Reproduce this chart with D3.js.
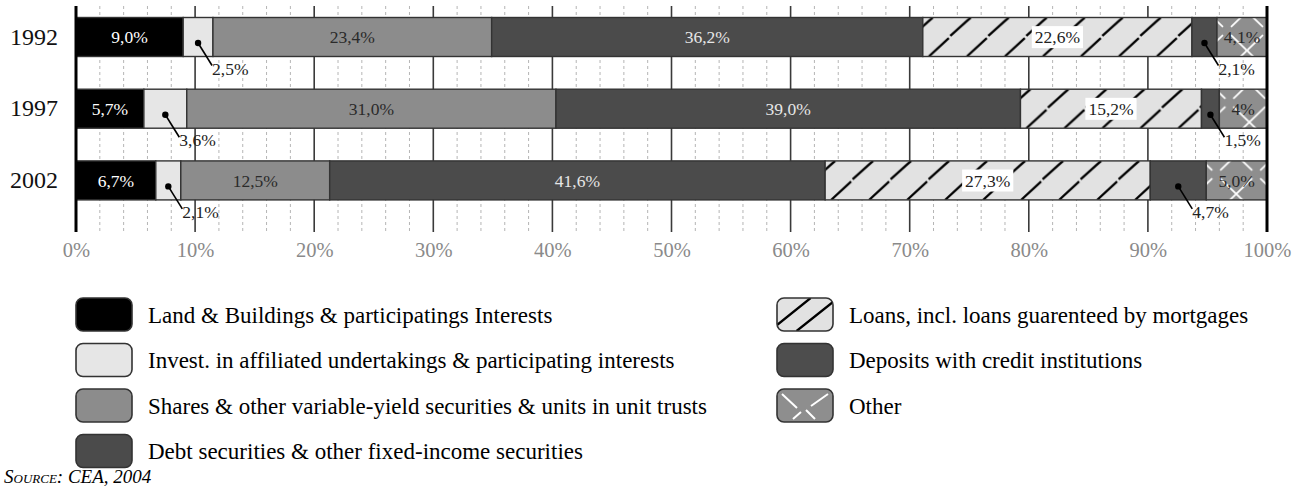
<!DOCTYPE html>
<html>
<head>
<meta charset="utf-8">
<script src="https://cdn.jsdelivr.net/npm/d3@7"></script>
<style>
  html, body { margin: 0; padding: 0; background: #fff; }
  svg { display: block; font-family: "Liberation Serif", "DejaVu Serif", serif; }
</style>
</head>
<body>
<svg id="chart" width="1313" height="490"></svg>
<script>
// ---- data ----
const years = ["1992", "1997", "2002"];
const categories = [
  "Land & Buildings & participatings Interests",
  "Invest. in affiliated undertakings & participating interests",
  "Shares & other variable-yield securities & units in unit trusts",
  "Debt securities & other fixed-income securities",
  "Loans, incl. loans guarenteed by mortgages",
  "Deposits with credit institutions",
  "Other"
];
const values1992 = [9.0, 2.5, 23.4, 36.2, 22.6, 2.1, 4.1];
const values1997 = [5.7, 3.6, 31.0, 39.0, 15.2, 1.5, 4.0];
const values2002 = [6.7, 2.1, 12.5, 41.6, 27.3, 4.7, 5.0];
const labels1992 = ["9,0%", "2,5%", "23,4%", "36,2%", "22,6%", "2,1%", "4,1%"];
const labels1997 = ["5,7%", "3,6%", "31,0%", "39,0%", "15,2%", "1,5%", "4%"];
const labels2002 = ["6,7%", "2,1%", "12,5%", "41,6%", "27,3%", "4,7%", "5,0%"];
const xTicks = [0, 10, 20, 30, 40, 50, 60, 70, 80, 90, 100];
const sourceText = "Source: CEA, 2004";

// ---- styles (kept apart from data) ----
const fills = ["#000000", "#e6e6e6", "#8c8c8c", "#4b4b4b", "#e2e2e2", "#4d4d4d", "#8e8e8e"];
const patternOf = [null, null, null, null, "loans", null, "other"];
const labelMode = ["inside", "callout", "inside", "inside", "boxed", "callout", "inside"];
const labelColor = ["#ffffff", "#222", "#2a2a2a", "#e6e6e6", "#222", "#222", "#2a2a2a"];

const valuesByYear = { "1992": values1992, "1997": values1997, "2002": values2002 };
const labelsByYear = { "1992": labels1992, "1997": labels1997, "2002": labels2002 };

const svg = d3.select("#chart");
const defs = svg.append("defs");

const x = d3.scaleLinear().domain([0, 100]).range([76, 1267]);
const y = d3.scaleBand().domain(years).range([17.5, 232.6])
  .paddingInner(0.456).paddingOuter(0.228).align(0);
const bw = y.bandwidth();
const gridTop = 6, gridBottom = 232;

// build segments
const segments = [];
years.forEach(yr => {
  let acc = 0;
  valuesByYear[yr].forEach((v, i) => {
    segments.push({ year: yr, i, v, x0: acc, x1: acc + v, label: labelsByYear[yr][i] });
    acc += v;
  });
});
// last segment reaches the 100% edge
years.forEach(yr => {
  const segs = segments.filter(s => s.year === yr);
  segs[segs.length - 1].x1 = 100;
});

// ---- grid ----
const grid = svg.append("g");
const minor = d3.range(2, 100, 2).filter(d => d % 10 !== 0);
grid.selectAll("line.minor").data(minor).join("line")
  .attr("x1", d => x(d)).attr("x2", d => x(d))
  .attr("y1", gridTop).attr("y2", gridBottom)
  .attr("stroke", "#b5b5b5").attr("stroke-width", 1).attr("stroke-dasharray", "3,3");
grid.selectAll("line.major").data(xTicks.filter(d => d > 0 && d < 100)).join("line")
  .attr("x1", d => x(d)).attr("x2", d => x(d))
  .attr("y1", gridTop).attr("y2", gridBottom)
  .attr("stroke", "#3a3a3a").attr("stroke-width", 1.6);

// ---- patterns (one per patterned segment, aligned to its bar) ----
segments.forEach((s, k) => {
  const p = patternOf[s.i];
  if (!p) return;
  const id = "pat" + k;
  s.pid = id;
  const bx = x(s.x0), by = y(s.year);
  if (p === "loans") {
    const w = 38, h = bw;
    const pat = defs.append("pattern").attr("id", id).attr("patternUnits", "userSpaceOnUse")
      .attr("x", bx + 6).attr("y", by).attr("width", w).attr("height", h);
    pat.append("rect").attr("width", w).attr("height", h).attr("fill", fills[s.i]);
    let d = "";
    [-w, 0, w].forEach(o => {
      d += `M${o},${h} L${o + 20},${h / 2 + 1} M${o + 21.5},${h / 2 - 1} L${o + 42},0 `;
    });
    pat.append("path").attr("d", d).attr("stroke", "#000").attr("stroke-width", 2.3).attr("fill", "none");
  } else {
    const w = 40, h = bw;
    const pat = defs.append("pattern").attr("id", id).attr("patternUnits", "userSpaceOnUse")
      .attr("x", bx - 10).attr("y", by - 6).attr("width", w).attr("height", h);
    pat.append("rect").attr("width", w).attr("height", h).attr("fill", fills[s.i]);
    const g = 4;
    const d = `M0,0 L${w / 2 - g},${h / 2 - g} M${w / 2 + g},${h / 2 + g} L${w},${h} ` +
              `M${w},0 L${w / 2 + g},${h / 2 - g} M${w / 2 - g},${h / 2 + g} L0,${h}`;
    pat.append("path").attr("d", d).attr("stroke", "#ffffff").attr("stroke-width", 1.8).attr("fill", "none");
  }
});

// legend patterns (aligned to legend boxes)
function legendPattern(id, type, bx, by, w, h) {
  const pat = defs.append("pattern").attr("id", id).attr("patternUnits", "userSpaceOnUse")
    .attr("x", bx).attr("y", by).attr("width", w).attr("height", h);
  if (type === "loans") {
    pat.append("rect").attr("width", w).attr("height", h).attr("fill", fills[4]);
    pat.append("path").attr("d", `M0,${h - 6} L${w * 0.6},0 M${w * 0.35},${h} L${w},${h * 0.12}`)
      .attr("stroke", "#000").attr("stroke-width", 2.3).attr("fill", "none");
  } else {
    pat.append("rect").attr("width", w).attr("height", h).attr("fill", fills[6]);
    pat.append("path").attr("d",
      `M5,5 L20,19 M${w - 5},5 L${w - 22},17 M16,${h - 3} L24,${h - 10} M${w - 18},${h - 3} L${w - 27},${h - 12}`)
      .attr("stroke", "#fff").attr("stroke-width", 2).attr("fill", "none");
  }
}

// ---- bars ----
svg.append("g").selectAll("rect").data(segments).join("rect")
  .attr("x", s => x(s.x0)).attr("y", s => y(s.year))
  .attr("width", s => x(s.x1) - x(s.x0)).attr("height", bw)
  .attr("fill", s => s.pid ? `url(#${s.pid})` : fills[s.i])
  .attr("stroke", "#333").attr("stroke-width", 1.4);

// ---- edge axis lines ----
svg.append("g").selectAll("line").data([0, 100]).join("line")
  .attr("x1", d => x(d)).attr("x2", d => x(d))
  .attr("y1", gridTop).attr("y2", gridBottom)
  .attr("stroke", "#000").attr("stroke-width", 3);

// ---- segment labels ----
const lab = svg.append("g").attr("font-size", 17.5);
segments.forEach(s => {
  const cx = (x(s.x0) + x(s.x1)) / 2;
  const top = y(s.year), cy = top + bw / 2;
  const mode = labelMode[s.i];
  if (mode === "inside") {
    lab.append("text").attr("x", cx).attr("y", cy).attr("dy", "0.35em")
      .attr("text-anchor", "middle").attr("fill", labelColor[s.i]).text(s.label);
  } else if (mode === "boxed") {
    const t = lab.append("text").attr("x", cx).attr("y", cy).attr("dy", "0.35em")
      .attr("text-anchor", "middle").attr("fill", labelColor[s.i]).text(s.label);
    const b = t.node().getBBox();
    lab.insert("rect", () => t.node())
      .attr("x", b.x - 3).attr("y", b.y - 1).attr("width", b.width + 6).attr("height", b.height + 2)
      .attr("fill", "#fff");
  } else {
    const dy = cy + 6, bottom = top + bw;
    lab.append("line").attr("x1", cx).attr("y1", dy).attr("x2", cx + 14).attr("y2", bottom + 9)
      .attr("stroke", "#000").attr("stroke-width", 1.6);
    lab.append("circle").attr("cx", cx).attr("cy", dy).attr("r", 3.2).attr("fill", "#000");
    lab.append("text").attr("x", cx + 14).attr("y", bottom + 18)
      .attr("fill", labelColor[s.i]).text(s.label);
  }
});

// ---- axes ----
const xAxis = svg.append("g").attr("transform", `translate(0,${gridBottom})`)
  .call(d3.axisBottom(x).tickValues(xTicks).tickFormat(d => d + "%").tickSize(0).tickPadding(10));
xAxis.select(".domain").remove();
xAxis.selectAll("text").attr("font-size", 20.5).attr("fill", "#8a8a8a")
  .attr("font-family", "Liberation Serif, serif");

const yAxis = svg.append("g").attr("transform", `translate(${x(0)},0)`)
  .call(d3.axisLeft(y).tickSize(0).tickPadding(18));
yAxis.select(".domain").remove();
yAxis.selectAll("text").attr("font-size", 24).attr("fill", "#111")
  .attr("font-family", "Liberation Serif, serif");

// ---- legend ----
const legCols = [0, 0, 0, 0, 1, 1, 1];
const legRows = [0, 1, 2, 3, 0, 1, 2];
const colX = [76, 777], rowY0 = 298, rowStep = 45.5, boxW = 56, boxH = 33;
const leg = svg.append("g");
categories.forEach((c, i) => {
  const bx = colX[legCols[i]], by = rowY0 + legRows[i] * rowStep;
  let fill = fills[i];
  if (patternOf[i]) {
    const id = "leg" + i;
    legendPattern(id, patternOf[i], bx, by, boxW, boxH);
    fill = `url(#${id})`;
  }
  leg.append("rect").attr("x", bx).attr("y", by).attr("width", boxW).attr("height", boxH)
    .attr("rx", 7).attr("fill", fill).attr("stroke", "#333").attr("stroke-width", 1.6);
  leg.append("text").attr("x", bx + boxW + 16).attr("y", by + boxH / 2).attr("dy", "0.35em")
    .attr("font-size", 23).attr("fill", "#000").text(c);
});

// ---- source ----
svg.append("text").attr("x", 4).attr("y", 483)
  .attr("font-size", 19).attr("font-style", "italic").attr("font-variant", "small-caps")
  .attr("fill", "#000").text(sourceText);
</script>
</body>
</html>
